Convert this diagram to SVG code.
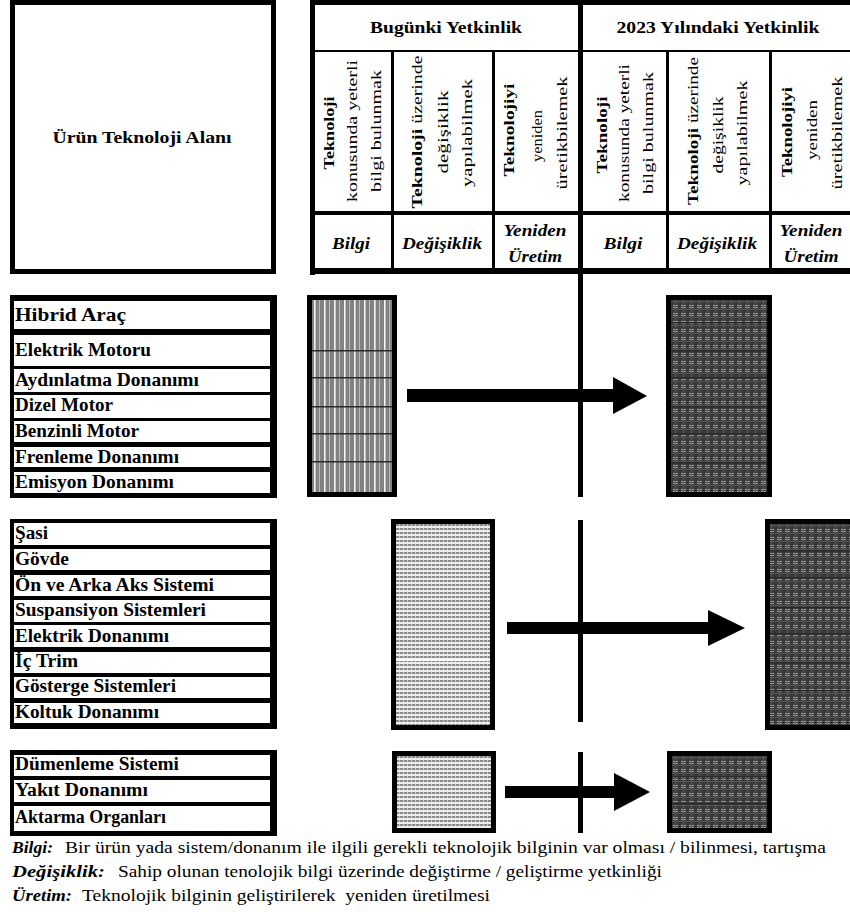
<svg xmlns="http://www.w3.org/2000/svg" width="850" height="912" viewBox="0 0 850 912" font-family="'Liberation Serif', 'Times New Roman', Tinos, 'DejaVu Serif', serif">
<style>
text{font-family:'Liberation Serif','Times New Roman',Tinos,'DejaVu Serif',serif;fill:#000}
.b{font-weight:bold;font-size:18px}
.h{font-weight:bold;font-size:17px}
.v{font-size:15px}
.bi{font-weight:bold;font-style:italic;font-size:17px}
.f{font-size:16px}
.fb{font-weight:bold;font-style:italic;font-size:16px}
.blk{fill:#000}
.wh{fill:#fff}
.frame{stroke:#000;stroke-width:5}
.hl{fill:#2a2a2a}
</style>
<defs>
<pattern id="pv" width="10" height="10" patternUnits="userSpaceOnUse" x="313" y="0">
<rect width="10" height="10" fill="#828282"/>
<rect x="1" width="1.6" height="10" fill="#f4f4f4"/>
<rect x="6" width="1" height="10" fill="#bdbdbd"/>
</pattern>
<pattern id="pd" width="8" height="8" patternUnits="userSpaceOnUse">
<rect width="8" height="8" fill="#3a3a3a"/>
<rect x="0" y="5" width="8" height="1" fill="#555"/>
<rect x="3" y="0" width="1" height="8" fill="#5e5e5e"/>
<rect x="1" y="1" width="2" height="1" fill="#a4a4a4"/>
<rect x="4" y="1" width="2" height="1" fill="#a4a4a4"/>
<rect x="1" y="3" width="2" height="1" fill="#a4a4a4"/>
<rect x="4" y="3" width="2" height="1" fill="#a4a4a4"/>
</pattern>
<pattern id="ph" width="4" height="4" patternUnits="userSpaceOnUse">
<rect width="4" height="4" fill="#ededed"/>
<rect y="0" width="4" height="2" fill="#8a8a8a"/>
<rect x="3" y="0" width="1" height="2" fill="#c6c6c6"/>
</pattern>
</defs>

<rect width="850" height="912" fill="#fff"/>

<g id="header-left">
<rect x="12.5" y="2.5" width="261" height="269" fill="#fff" class="frame"/>
<text class="h" x="142" y="143" text-anchor="middle" textLength="179" lengthAdjust="spacingAndGlyphs">Ürün Teknoloji Alanı</text>
</g>

<g id="header-table">
<rect x="310" y="0" width="545" height="5" class="blk"/>
<rect x="310" y="0" width="5" height="275" class="blk"/>
<rect x="310" y="268" width="545" height="6" class="blk"/>
<rect x="310" y="50" width="545" height="2" class="blk"/>
<rect x="310" y="211" width="545" height="4" class="blk"/>
<rect x="578" y="0" width="5" height="275" class="blk"/>
<rect x="391" y="50" width="3" height="220" class="blk"/>
<rect x="492" y="50" width="3" height="220" class="blk"/>
<rect x="666" y="50" width="3" height="220" class="blk"/>
<rect x="769" y="50" width="3" height="220" class="blk"/>
<text class="h" x="446" y="33" text-anchor="middle" textLength="152" lengthAdjust="spacingAndGlyphs">Bugünki Yetkinlik</text>
<text class="h" x="718" y="33" text-anchor="middle" textLength="203" lengthAdjust="spacingAndGlyphs">2023 Yılındaki Yetkinlik</text>

<text class="v" font-weight="bold" transform="translate(329,133) rotate(-90)" text-anchor="middle" dominant-baseline="central" textLength="73" lengthAdjust="spacingAndGlyphs">Teknoloji</text>
<text class="v" transform="translate(352,131) rotate(-90)" text-anchor="middle" dominant-baseline="central" textLength="142" lengthAdjust="spacingAndGlyphs">konusunda yeterli</text>
<text class="v" transform="translate(376,131) rotate(-90)" text-anchor="middle" dominant-baseline="central" textLength="122" lengthAdjust="spacingAndGlyphs">bilgi bulunmak</text>
<text class="v" transform="translate(417,132) rotate(-90)" text-anchor="middle" dominant-baseline="central" textLength="153" lengthAdjust="spacingAndGlyphs"><tspan font-weight="bold">Teknoloji</tspan> üzerinde</text>
<text class="v" transform="translate(443,132) rotate(-90)" text-anchor="middle" dominant-baseline="central" textLength="83" lengthAdjust="spacingAndGlyphs">değişiklik</text>
<text class="v" transform="translate(467,133) rotate(-90)" text-anchor="middle" dominant-baseline="central" textLength="108" lengthAdjust="spacingAndGlyphs">yapılabilmek</text>
<text class="v" font-weight="bold" transform="translate(509,130) rotate(-90)" text-anchor="middle" dominant-baseline="central" textLength="93" lengthAdjust="spacingAndGlyphs">Teknolojiyi</text>
<text class="v" transform="translate(537,136) rotate(-90)" text-anchor="middle" dominant-baseline="central" textLength="52" lengthAdjust="spacingAndGlyphs">yeniden</text>
<text class="v" transform="translate(562,133) rotate(-90)" text-anchor="middle" dominant-baseline="central" textLength="113" lengthAdjust="spacingAndGlyphs">üretikbilemek</text>

<text class="v" font-weight="bold" transform="translate(602,135) rotate(-90)" text-anchor="middle" dominant-baseline="central" textLength="77" lengthAdjust="spacingAndGlyphs">Teknoloji</text>
<text class="v" transform="translate(624,133) rotate(-90)" text-anchor="middle" dominant-baseline="central" textLength="138" lengthAdjust="spacingAndGlyphs">konusunda yeterli</text>
<text class="v" transform="translate(648,133) rotate(-90)" text-anchor="middle" dominant-baseline="central" textLength="122" lengthAdjust="spacingAndGlyphs">bilgi bulunmak</text>
<text class="v" transform="translate(693,131) rotate(-90)" text-anchor="middle" dominant-baseline="central" textLength="148" lengthAdjust="spacingAndGlyphs"><tspan font-weight="bold">Teknoloji</tspan> üzerinde</text>
<text class="v" transform="translate(718,135) rotate(-90)" text-anchor="middle" dominant-baseline="central" textLength="77" lengthAdjust="spacingAndGlyphs">değişiklik</text>
<text class="v" transform="translate(742,133) rotate(-90)" text-anchor="middle" dominant-baseline="central" textLength="105" lengthAdjust="spacingAndGlyphs">yapılabilmek</text>
<text class="v" font-weight="bold" transform="translate(787,132) rotate(-90)" text-anchor="middle" dominant-baseline="central" textLength="90" lengthAdjust="spacingAndGlyphs">Teknolojiyi</text>
<text class="v" transform="translate(812,130) rotate(-90)" text-anchor="middle" dominant-baseline="central" textLength="60" lengthAdjust="spacingAndGlyphs">yeniden</text>
<text class="v" transform="translate(837,133) rotate(-90)" text-anchor="middle" dominant-baseline="central" textLength="113" lengthAdjust="spacingAndGlyphs">üretikbilemek</text>

<text class="bi" x="351" y="249" text-anchor="middle" textLength="38" lengthAdjust="spacingAndGlyphs">Bilgi</text>
<text class="bi" x="442" y="249" text-anchor="middle" textLength="80" lengthAdjust="spacingAndGlyphs">Değişiklik</text>
<text class="bi" x="535" y="236" text-anchor="middle" textLength="63" lengthAdjust="spacingAndGlyphs">Yeniden</text>
<text class="bi" x="535" y="262" text-anchor="middle" textLength="54" lengthAdjust="spacingAndGlyphs">Üretim</text>
<text class="bi" x="623" y="249" text-anchor="middle" textLength="39" lengthAdjust="spacingAndGlyphs">Bilgi</text>
<text class="bi" x="717" y="249" text-anchor="middle" textLength="80" lengthAdjust="spacingAndGlyphs">Değişiklik</text>
<text class="bi" x="811" y="236" text-anchor="middle" textLength="63" lengthAdjust="spacingAndGlyphs">Yeniden</text>
<text class="bi" x="811" y="262" text-anchor="middle" textLength="55" lengthAdjust="spacingAndGlyphs">Üretim</text>
</g>

<g id="group1-list">
<rect x="10" y="295" width="267" height="203" class="blk"/>
<rect x="14" y="301" width="256" height="28" class="wh"/>
<rect x="14" y="335" width="256" height="31" class="wh"/>
<rect x="14" y="369" width="256" height="23" class="wh"/>
<rect x="14" y="395" width="256" height="23" class="wh"/>
<rect x="14" y="421" width="256" height="21" class="wh"/>
<rect x="14" y="447" width="256" height="20" class="wh"/>
<rect x="14" y="472" width="256" height="21" class="wh"/>
<text class="b" x="15" y="321" textLength="111" lengthAdjust="spacingAndGlyphs">Hibrid Araç</text>
<text class="b" x="15" y="356" textLength="136" lengthAdjust="spacingAndGlyphs">Elektrik Motoru</text>
<text class="b" x="15" y="386" textLength="184" lengthAdjust="spacingAndGlyphs">Aydınlatma Donanımı</text>
<text class="b" x="15" y="411" textLength="98" lengthAdjust="spacingAndGlyphs">Dizel Motor</text>
<text class="b" x="15" y="437" textLength="124" lengthAdjust="spacingAndGlyphs">Benzinli Motor</text>
<text class="b" x="15" y="463" textLength="164" lengthAdjust="spacingAndGlyphs">Frenleme Donanımı</text>
<text class="b" x="15" y="488" textLength="159" lengthAdjust="spacingAndGlyphs">Emisyon Donanımı</text>
</g>

<g id="group2-list">
<rect x="10" y="519" width="267" height="210" class="blk"/>
<rect x="14" y="523" width="256" height="22" class="wh"/>
<rect x="14" y="549" width="256" height="21" class="wh"/>
<rect x="14" y="575" width="256" height="21" class="wh"/>
<rect x="14" y="600" width="256" height="22" class="wh"/>
<rect x="14" y="625" width="256" height="22" class="wh"/>
<rect x="14" y="652" width="256" height="21" class="wh"/>
<rect x="14" y="677" width="256" height="21" class="wh"/>
<rect x="14" y="703" width="256" height="20" class="wh"/>
<text class="b" x="15" y="539" textLength="33" lengthAdjust="spacingAndGlyphs">Şasi</text>
<text class="b" x="15" y="565" textLength="54" lengthAdjust="spacingAndGlyphs">Gövde</text>
<text class="b" x="15" y="591" textLength="199" lengthAdjust="spacingAndGlyphs">Ön ve Arka Aks Sistemi</text>
<text class="b" x="15" y="616" textLength="191" lengthAdjust="spacingAndGlyphs">Suspansiyon Sistemleri</text>
<text class="b" x="15" y="642" textLength="154" lengthAdjust="spacingAndGlyphs">Elektrik Donanımı</text>
<text class="b" x="15" y="667" textLength="63" lengthAdjust="spacingAndGlyphs">İç Trim</text>
<text class="b" x="15" y="692" textLength="161" lengthAdjust="spacingAndGlyphs">Gösterge Sistemleri</text>
<text class="b" x="15" y="718" textLength="144" lengthAdjust="spacingAndGlyphs">Koltuk Donanımı</text>
</g>

<g id="group3-list">
<rect x="10" y="750" width="267" height="86" class="blk"/>
<rect x="14" y="755" width="256" height="21" class="wh"/>
<rect x="14" y="780" width="256" height="22" class="wh"/>
<rect x="14" y="806" width="256" height="25" class="wh"/>
<text class="b" x="15" y="770" textLength="164" lengthAdjust="spacingAndGlyphs">Dümenleme Sistemi</text>
<text class="b" x="15" y="796" textLength="133" lengthAdjust="spacingAndGlyphs">Yakıt Donanımı</text>
<text class="b" x="15" y="823" textLength="151" lengthAdjust="spacingAndGlyphs">Aktarma Organları</text>
</g>

<g id="g1-current">
<rect x="309.5" y="297.5" width="85" height="197" fill="url(#pv)" class="frame"/>
<rect x="312" y="350" width="80" height="1.5" class="hl"/>
<rect x="312" y="377" width="80" height="1.5" class="hl"/>
<rect x="312" y="406" width="80" height="1.5" class="hl"/>
<rect x="312" y="433" width="80" height="1.5" class="hl"/>
<rect x="312" y="461" width="80" height="1.5" class="hl"/>
</g>
<g id="g1-future">
<rect x="668.5" y="297.5" width="101" height="197" fill="url(#pd)" class="frame"/>
<rect x="671" y="322" width="96" height="1.5" class="hl"/>
<rect x="671" y="350" width="96" height="1.5" class="hl"/>
<rect x="671" y="377" width="96" height="1.5" class="hl"/>
<rect x="671" y="406" width="96" height="1.5" class="hl"/>
<rect x="671" y="433" width="96" height="1.5" class="hl"/>
<rect x="671" y="462" width="96" height="1.5" class="hl"/>
</g>

<g id="g2-current">
<rect x="393.5" y="521.5" width="99" height="206" fill="url(#ph)" class="frame"/>
<rect x="396" y="659" width="94" height="2" fill="#fff"/>
</g>
<g id="g2-future">
<rect x="767.5" y="521.5" width="90" height="206" fill="url(#pd)" class="frame"/>
<rect x="770" y="550" width="85" height="1.5" class="hl"/>
<rect x="770" y="577" width="85" height="1.5" class="hl"/>
<rect x="770" y="607" width="85" height="1.5" class="hl"/>
<rect x="770" y="633" width="85" height="1.5" class="hl"/>
<rect x="770" y="662" width="85" height="1.5" class="hl"/>
<rect x="770" y="690" width="85" height="1.5" class="hl"/>
</g>

<g id="g3-current">
<rect x="394.5" y="753.5" width="99" height="77" fill="url(#ph)" class="frame"/>
</g>
<g id="g3-future">
<rect x="669.5" y="753.5" width="100" height="77" fill="url(#pd)" class="frame"/>
<rect x="672" y="776" width="95" height="1.5" class="hl"/>
<rect x="672" y="803" width="95" height="1.5" class="hl"/>
</g>

<g id="connectors">
<rect x="578" y="274" width="5" height="223" class="blk"/>
<rect x="578" y="520" width="5" height="202" class="blk"/>
<rect x="578" y="752" width="5" height="81" class="blk"/>
<polygon points="407,389 613,389 613,377 647,396 613,414 613,402 407,402" class="blk"/>
<polygon points="507,622 708,622 708,610 745,628 708,646 708,634 507,634" class="blk"/>
<polygon points="505,786 614,786 614,773 650,792 614,811 614,798 505,798" class="blk"/>
</g>

<g id="legend">
<text class="fb" x="12" y="853" textLength="41" lengthAdjust="spacingAndGlyphs">Bilgi:</text>
<text class="f" x="65" y="853" textLength="761" lengthAdjust="spacingAndGlyphs">Bir ürün yada sistem/donanım ile ilgili gerekli teknolojik bilginin var olması / bilinmesi, tartışma</text>
<text class="fb" x="12" y="877" textLength="93" lengthAdjust="spacingAndGlyphs">Değişiklik:</text>
<text class="f" x="118" y="877" textLength="544" lengthAdjust="spacingAndGlyphs">Sahip olunan tenolojik bilgi üzerinde değiştirme / geliştirme yetkinliği</text>
<text class="fb" x="12" y="901" textLength="60" lengthAdjust="spacingAndGlyphs">Üretim:</text>
<text class="f" x="82" y="901" textLength="408" lengthAdjust="spacingAndGlyphs" xml:space="preserve">Teknolojik bilginin geliştirilerek  yeniden üretilmesi</text>
</g>
</svg>
